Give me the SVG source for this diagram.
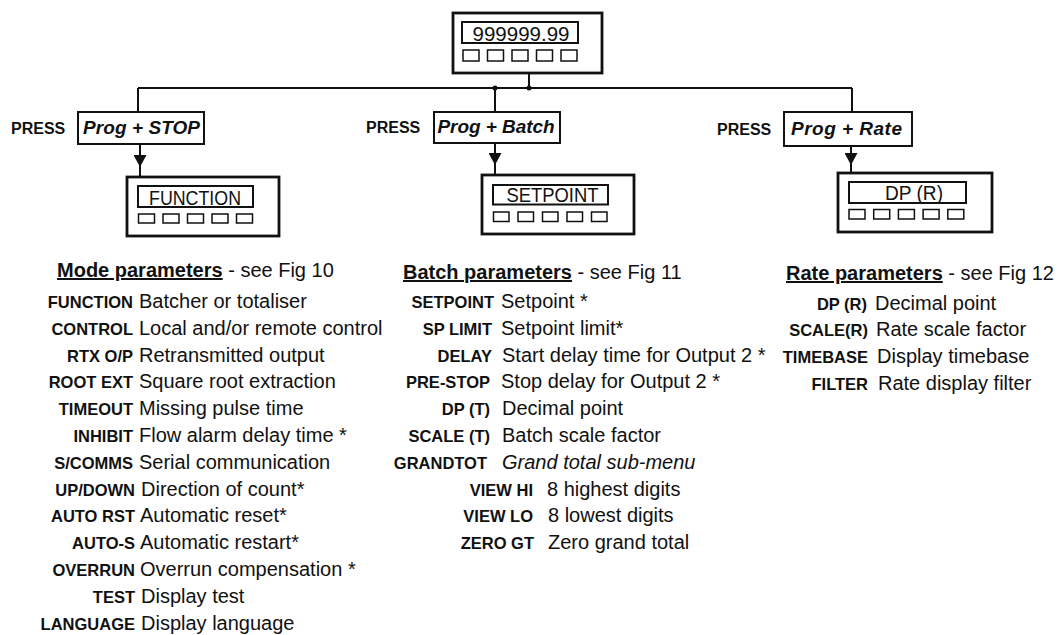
<svg xmlns="http://www.w3.org/2000/svg" width="1058" height="635" viewBox="0 0 1058 635">
<defs>
<style>
.outer{fill:none;stroke:#111;stroke-width:2.8}
.inner{fill:none;stroke:#111;stroke-width:2}
.btn{fill:none;stroke:#111;stroke-width:1.5}
.pbox{fill:#fff;stroke:#111;stroke-width:2}
.conn{fill:none;stroke:#111;stroke-width:2}
.disp{font-family:"Liberation Sans",Arial,sans-serif;font-size:21px;fill:#111;text-anchor:middle}
.press{font-family:"Liberation Sans",Arial,sans-serif;font-size:16px;font-weight:bold;fill:#111}
.prog{font-family:"Liberation Sans",Arial,sans-serif;font-size:19px;font-weight:bold;font-style:italic;fill:#111}
.hdr{font-family:"Liberation Sans",Arial,sans-serif;font-size:20px;fill:#111}
.hdrb{font-weight:bold}
.lbl{font-family:"Liberation Sans",Arial,sans-serif;font-size:16.5px;font-weight:bold;fill:#111;text-anchor:end}
.dsc{font-family:"Liberation Sans",Arial,sans-serif;font-size:20px;fill:#111}
.it{font-style:italic}
</style>
<marker id="arr" viewBox="0 0 12 13" refX="12" refY="6.5" markerWidth="12" markerHeight="13" markerUnits="userSpaceOnUse" orient="auto">
<path d="M0,0 L12,6.5 L0,13 Z" fill="#111"/>
</marker>
</defs>
<rect width="1058" height="635" fill="#fff"/>

<g id="connectors">
<path class="conn" d="M529,73 V88"/>
<path class="conn" d="M138,88 H852"/>
<path class="conn" d="M138,88 V112"/>
<path class="conn" d="M495,88 V112"/>
<path class="conn" d="M852,88 V112"/>
<circle cx="495" cy="88" r="2.5" fill="#111"/>
<circle cx="529" cy="88" r="2.5" fill="#111"/>
<path class="conn" d="M140,144 V167 V177" marker-mid="url(#arr)"/>
<path class="conn" d="M495,143 V165 V175" marker-mid="url(#arr)"/>
<path class="conn" d="M851,146 V165 V173" marker-mid="url(#arr)"/>
</g>

<g id="display-top">
<rect class="outer" x="453" y="13" width="149" height="60"/>
<rect class="inner" x="462" y="22" width="116" height="21"/>
<text class="disp" x="521" y="41" textLength="97" lengthAdjust="spacingAndGlyphs">999999.99</text>
<rect class="btn" x="463" y="50" width="16" height="11"/>
<rect class="btn" x="487.5" y="50" width="16" height="11"/>
<rect class="btn" x="512" y="50" width="16" height="11"/>
<rect class="btn" x="536.5" y="50" width="16" height="11"/>
<rect class="btn" x="561" y="50" width="16" height="11"/>
</g>

<g id="press-stop">
<text class="press" x="11" y="134">PRESS</text>
<rect class="pbox" x="78" y="112" width="126" height="32"/>
<text class="prog" x="83" y="134" textLength="117">Prog + STOP</text>
</g>

<g id="press-batch">
<text class="press" x="366" y="133">PRESS</text>
<rect class="pbox" x="434" y="112" width="126" height="31"/>
<text class="prog" x="437.5" y="133" textLength="117">Prog + Batch</text>
</g>

<g id="press-rate">
<text class="press" x="717" y="135">PRESS</text>
<rect class="pbox" x="784" y="112" width="128" height="34"/>
<text class="prog" x="791" y="135" textLength="111">Prog + Rate</text>
</g>

<g id="display-function">
<rect class="outer" x="127" y="177" width="152" height="59"/>
<rect class="inner" x="138" y="186" width="115" height="21"/>
<text class="disp" x="195" y="204.5" textLength="92" lengthAdjust="spacingAndGlyphs">FUNCTION</text>
<rect class="btn" x="138.5" y="214" width="16" height="9"/>
<rect class="btn" x="163" y="214" width="16" height="9"/>
<rect class="btn" x="187.5" y="214" width="16" height="9"/>
<rect class="btn" x="212" y="214" width="16" height="9"/>
<rect class="btn" x="236.5" y="214" width="16" height="9"/>
</g>

<g id="display-setpoint">
<rect class="outer" x="482" y="175" width="152" height="59"/>
<rect class="inner" x="493" y="185" width="115" height="19.5"/>
<text class="disp" x="552.5" y="201.5" textLength="92" lengthAdjust="spacingAndGlyphs">SETPOINT</text>
<rect class="btn" x="493.5" y="212" width="15.5" height="9.5"/>
<rect class="btn" x="518" y="212" width="15.5" height="9.5"/>
<rect class="btn" x="542.5" y="212" width="15.5" height="9.5"/>
<rect class="btn" x="567" y="212" width="15.5" height="9.5"/>
<rect class="btn" x="591.5" y="212" width="15.5" height="9.5"/>
</g>

<g id="display-dpr">
<rect class="outer" x="838" y="173" width="154" height="59"/>
<rect class="inner" x="849" y="182" width="117" height="21"/>
<text class="disp" x="914" y="200" textLength="58" lengthAdjust="spacingAndGlyphs">DP (R)</text>
<rect class="btn" x="849" y="209.5" width="16" height="9.5"/>
<rect class="btn" x="873.7" y="209.5" width="16" height="9.5"/>
<rect class="btn" x="898.4" y="209.5" width="16" height="9.5"/>
<rect class="btn" x="923.1" y="209.5" width="16" height="9.5"/>
<rect class="btn" x="947.8" y="209.5" width="16" height="9.5"/>
</g>

<g id="mode-parameters">
<text class="hdr" x="57" y="277"><tspan class="hdrb" text-decoration="underline">Mode parameters</tspan> - see Fig 10</text>
<text class="lbl" x="133" y="308">FUNCTION</text><text class="dsc" x="139" y="308">Batcher or totaliser</text>
<text class="lbl" x="133" y="334.8">CONTROL</text><text class="dsc" x="139" y="334.8">Local and/or remote control</text>
<text class="lbl" x="133" y="361.6">RTX O/P</text><text class="dsc" x="139" y="361.6">Retransmitted output</text>
<text class="lbl" x="133" y="388.4">ROOT EXT</text><text class="dsc" x="139" y="388.4">Square root extraction</text>
<text class="lbl" x="133" y="415.2">TIMEOUT</text><text class="dsc" x="139" y="415.2">Missing pulse time</text>
<text class="lbl" x="133" y="442">INHIBIT</text><text class="dsc" x="139" y="442">Flow alarm delay time *</text>
<text class="lbl" x="133" y="468.8">S/COMMS</text><text class="dsc" x="139" y="468.8">Serial communication</text>
<text class="lbl" x="135" y="495.6">UP/DOWN</text><text class="dsc" x="141" y="495.6">Direction of count*</text>
<text class="lbl" x="135" y="522.4">AUTO RST</text><text class="dsc" x="140" y="522.4">Automatic reset*</text>
<text class="lbl" x="135" y="549.2">AUTO-S</text><text class="dsc" x="140" y="549.2">Automatic restart*</text>
<text class="lbl" x="135" y="576">OVERRUN</text><text class="dsc" x="140" y="576">Overrun compensation *</text>
<text class="lbl" x="135" y="602.8">TEST</text><text class="dsc" x="141" y="602.8">Display test</text>
<text class="lbl" x="135" y="629.6">LANGUAGE</text><text class="dsc" x="141" y="629.6">Display language</text>
</g>

<g id="batch-parameters">
<text class="hdr" x="403" y="279"><tspan class="hdrb" text-decoration="underline">Batch parameters</tspan>  - see Fig 11</text>
<text class="lbl" x="494" y="308">SETPOINT</text><text class="dsc" x="501" y="308">Setpoint *</text>
<text class="lbl" x="492" y="334.8">SP LIMIT</text><text class="dsc" x="501" y="334.8">Setpoint limit*</text>
<text class="lbl" x="492" y="361.6">DELAY</text><text class="dsc" x="502" y="361.6">Start delay time for Output 2 *</text>
<text class="lbl" x="490" y="388.4">PRE-STOP</text><text class="dsc" x="501" y="388.4">Stop delay for Output 2 *</text>
<text class="lbl" x="490" y="415.2">DP (T)</text><text class="dsc" x="502" y="415.2">Decimal point</text>
<text class="lbl" x="490" y="442">SCALE (T)</text><text class="dsc" x="502" y="442">Batch scale factor</text>
<text class="lbl" x="487" y="468.8">GRANDTOT</text><text class="dsc it" x="502" y="468.8">Grand total sub-menu</text>
<text class="lbl" x="533" y="495.6">VIEW HI</text><text class="dsc" x="547" y="495.6">8 highest digits</text>
<text class="lbl" x="533" y="522.4">VIEW LO</text><text class="dsc" x="548" y="522.4">8 lowest digits</text>
<text class="lbl" x="534" y="549.2">ZERO GT</text><text class="dsc" x="548" y="549.2">Zero grand total</text>
</g>

<g id="rate-parameters">
<text class="hdr" x="786" y="280"><tspan class="hdrb" text-decoration="underline">Rate parameters</tspan> - see Fig 12</text>
<text class="lbl" x="867" y="309.5">DP (R)</text><text class="dsc" x="875" y="309.5">Decimal point</text>
<text class="lbl" x="868" y="336.3">SCALE(R)</text><text class="dsc" x="876" y="336.3">Rate scale factor</text>
<text class="lbl" x="868" y="363.1">TIMEBASE</text><text class="dsc" x="877" y="363.1">Display timebase</text>
<text class="lbl" x="868" y="389.9">FILTER</text><text class="dsc" x="878" y="389.9">Rate display filter</text>
</g>
</svg>
